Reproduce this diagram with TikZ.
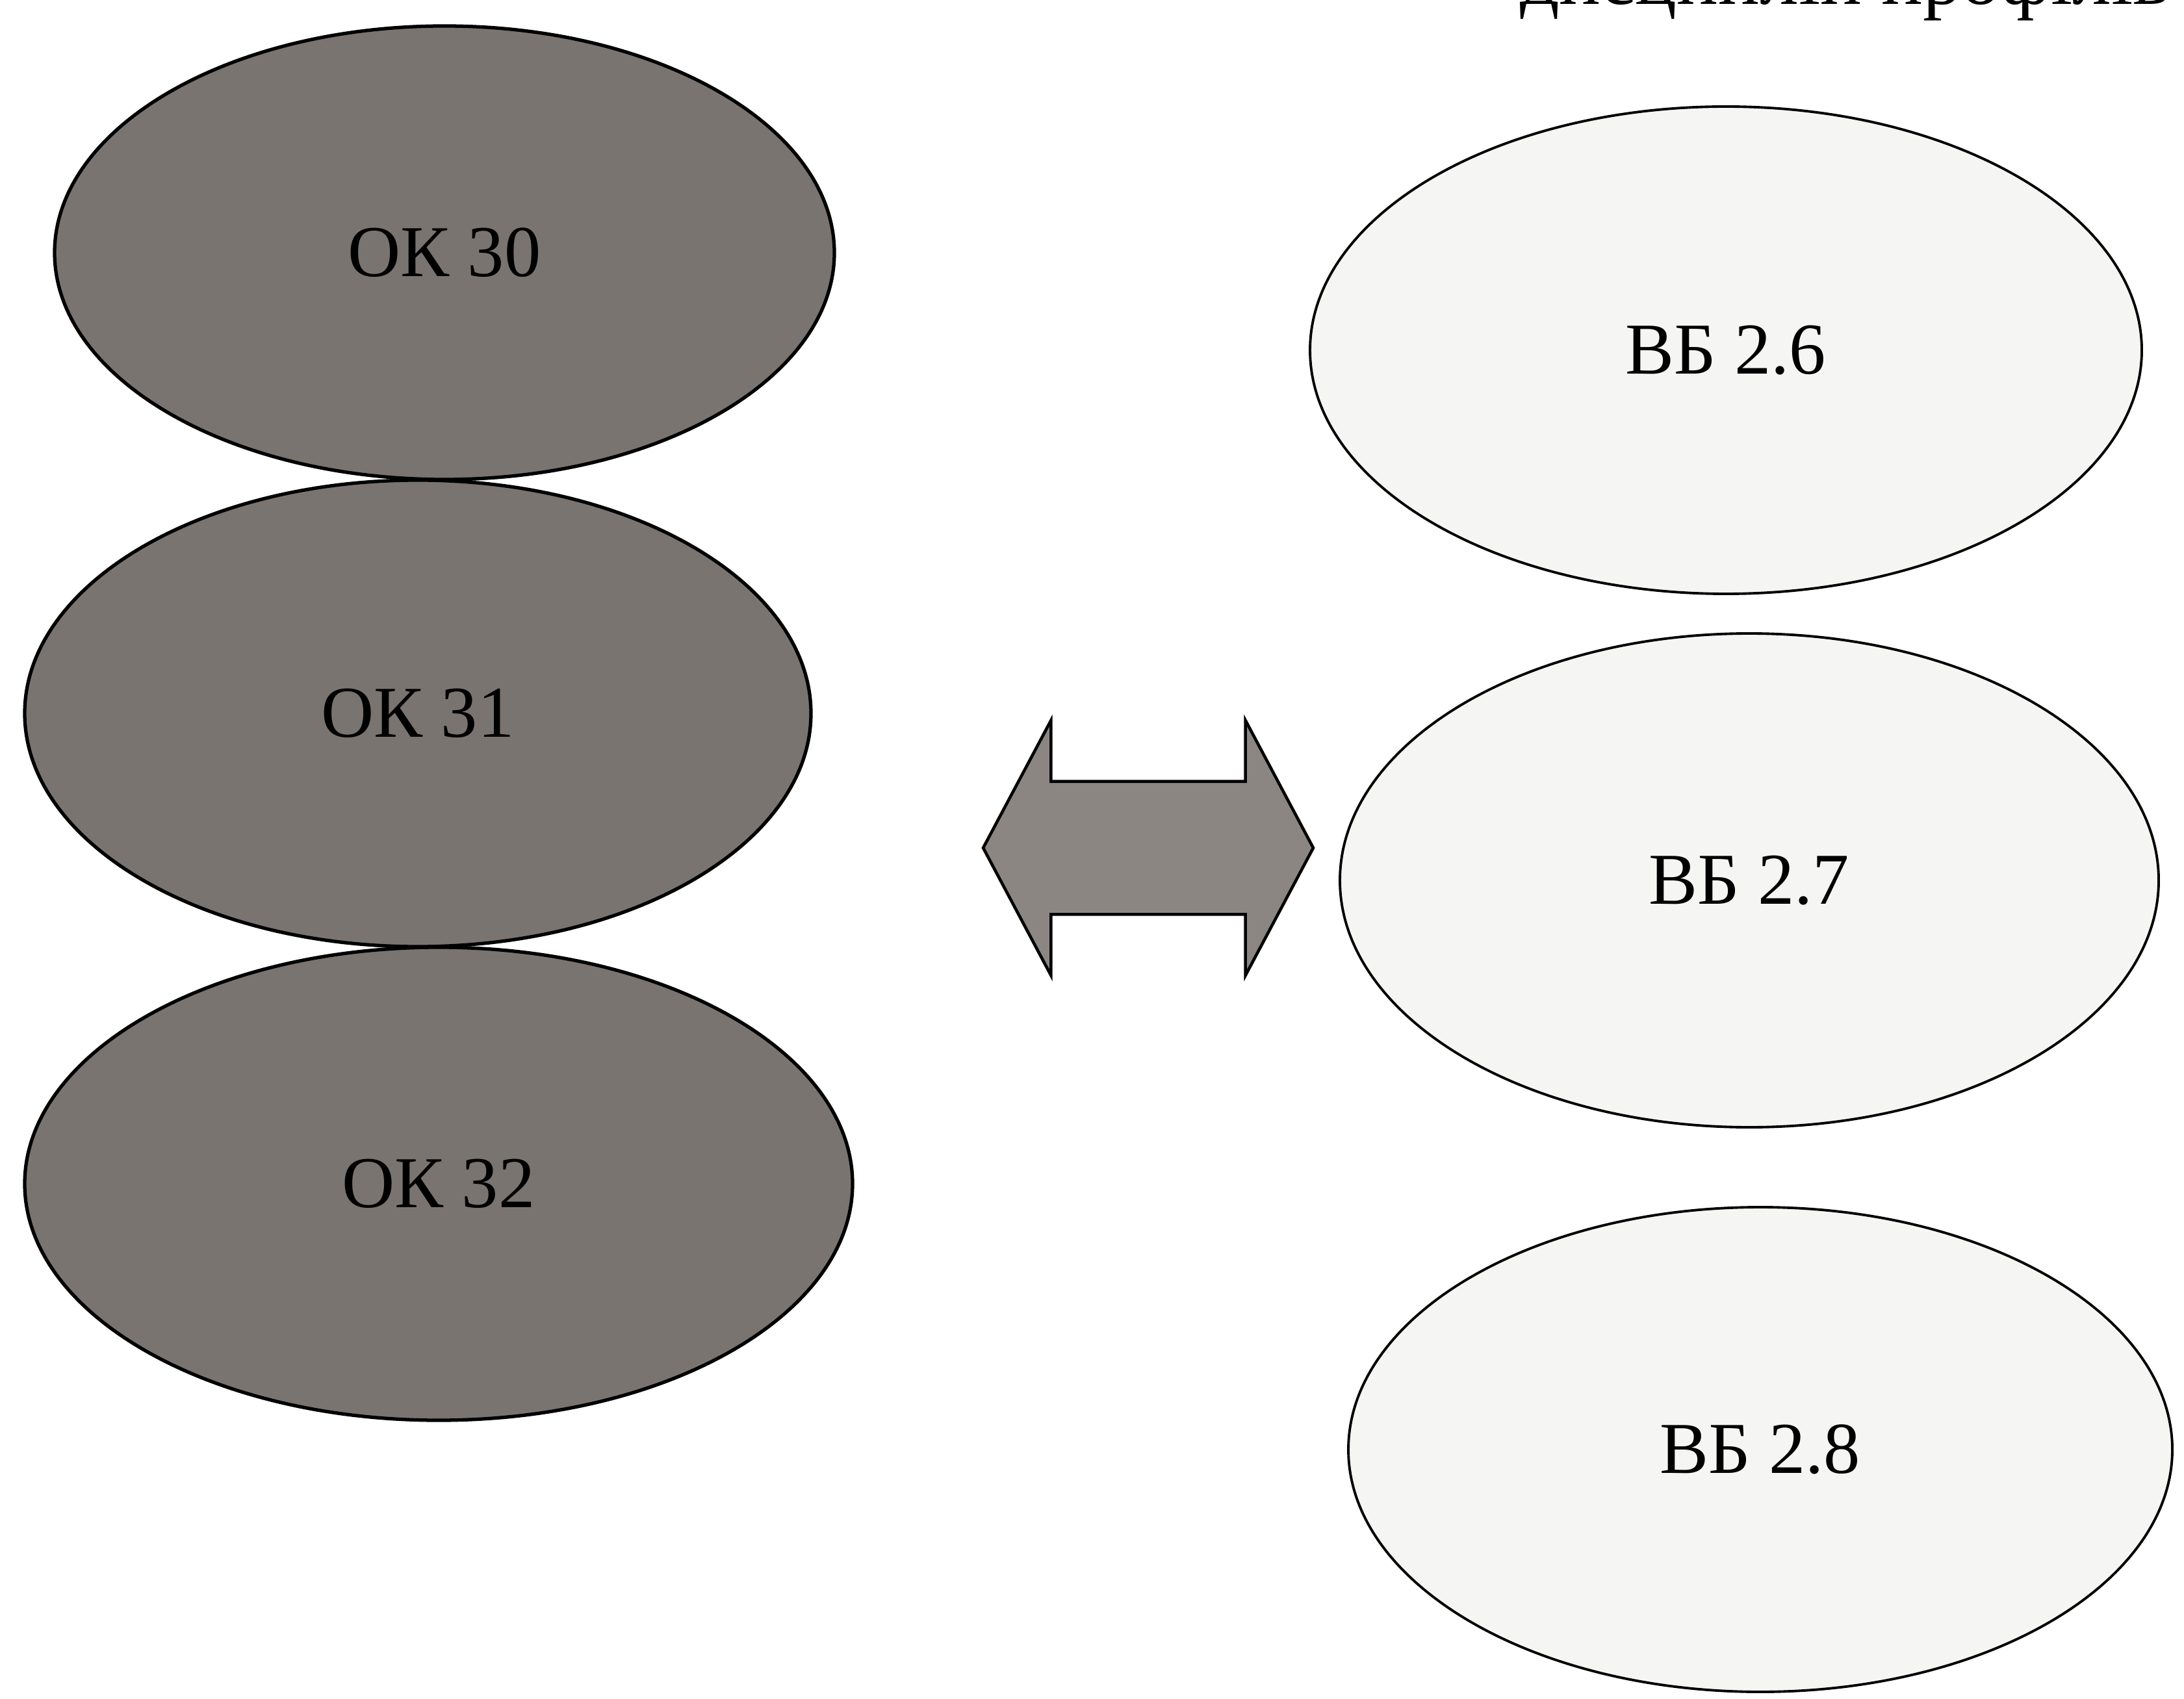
\documentclass[tikz,border=0pt]{standalone}
\usepackage{fontspec}
\setmainfont{Liberation Serif}
\usetikzlibrary{positioning,shapes.geometric,shapes.arrows}
\definecolor{okgray}{RGB}{122,116,113}
\definecolor{vbwhite}{RGB}{245,245,243}
\definecolor{linkgray}{RGB}{140,134,130}
\tikzset{
every path/.style={line width=1.3pt}
, every node/.style={font=\fontsize{32}{38}\selectfont}
, oknode/.style={ellipse,draw,fill=okgray,inner sep=0,line width=1.5pt}
, vbnode/.style={ellipse,draw,fill=vbwhite,inner sep=0,line width=1.1pt}
, linknode/.style={double arrow,draw,fill=linkgray,inner xsep=0,inner ysep=1cm
  ,double arrow head extend=0.94cm,double arrow tip angle=124}}

\begin{document}
\begin{tikzpicture}
\useasboundingbox (0,0) rectangle (33.61,26.14);
%\draw [use as bounding box] (0,0) rectangle (33.61,26.14);
\node[anchor=base west,font=\fontsize{34}{40}\selectfont] at (23.25,26.07) (head) {дисциплін профілів};
\node[oknode,minimum width=12.0cm,minimum height=6.98cm] at (6.84,22.25) (ok30) {ОК 30};
\node[oknode,minimum width=12.1cm,minimum height=7.18cm] at (6.43,15.16) (ok31) {ОК 31};
\node[oknode,minimum width=12.74cm,minimum height=7.28cm] at (6.75,7.92) (ok32) {ОК 32};
\node[vbnode,minimum width=12.8cm,minimum height=7.5cm] at (26.56,20.75) (vb26) {ВБ 2.6};
\node[vbnode,minimum width=12.6cm,minimum height=7.6cm] at (26.92,12.59) (vb27) {ВБ 2.7};
\node[vbnode,minimum width=12.68cm,minimum height=7.46cm] at (27.09,3.83) (vb28) {ВБ 2.8};
\node[linknode,minimum height=5.08cm] at (17.67,13.09) (link) {};
\end{tikzpicture}
\end{document}
